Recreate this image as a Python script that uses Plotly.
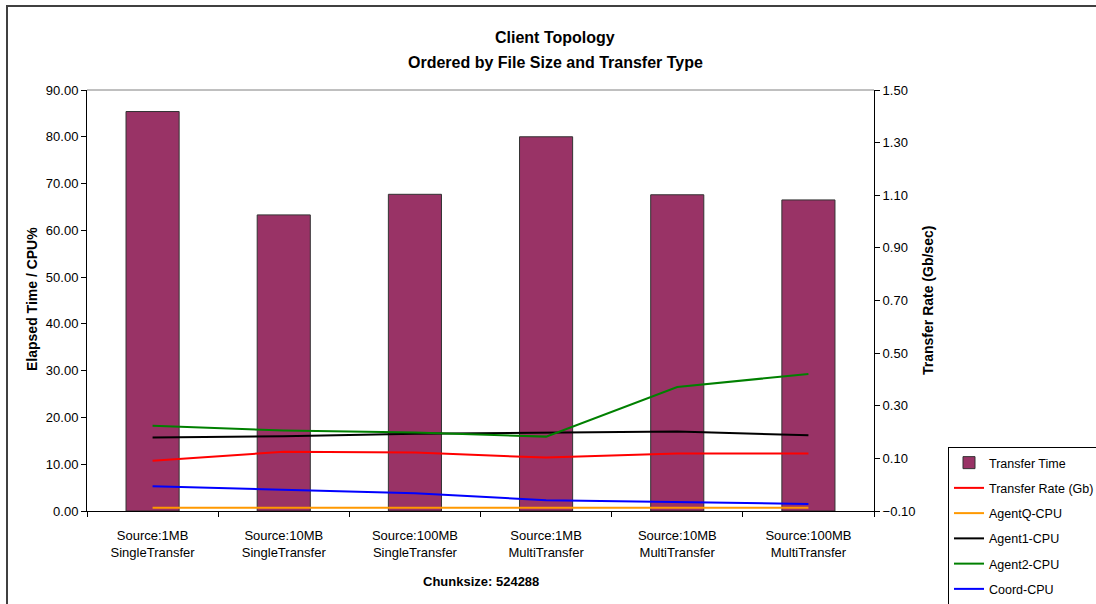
import plotly.graph_objects as go

# Test configurations (file size / transfer mode)
categories = [
    "Source:1MB<br>SingleTransfer",
    "Source:10MB<br>SingleTransfer",
    "Source:100MB<br>SingleTransfer",
    "Source:1MB<br>MultiTransfer",
    "Source:10MB<br>MultiTransfer",
    "Source:100MB<br>MultiTransfer",
]

# Elapsed time (left axis)
transfer_time = [85.4, 63.3, 67.7, 80.0, 67.6, 66.5]
# Transfer rate in Gb/sec (right axis)
transfer_rate = [0.091, 0.125, 0.122, 0.103, 0.119, 0.119]
# CPU usage in percent (left axis)
agentq_cpu = [0.7, 0.7, 0.7, 0.7, 0.7, 0.7]
agent1_cpu = [15.7, 16.0, 16.5, 16.7, 17.0, 16.2]
agent2_cpu = [18.2, 17.2, 16.8, 15.9, 26.5, 29.3]
coord_cpu = [5.3, 4.5, 3.8, 2.3, 1.9, 1.5]

FONT = "Liberation Sans, Arial, sans-serif"

fig = go.Figure()

fig.add_trace(go.Bar(
    x=categories, y=transfer_time, name="Transfer Time",
    marker=dict(color="#993366", line=dict(color="#333333", width=1)),
    width=0.405, legendgroup="g1", yaxis="y",
))
fig.add_trace(go.Scatter(
    x=categories, y=transfer_rate, name="Transfer Rate (Gb)", mode="lines",
    line=dict(color="#ff0000", width=2), legendgroup="g2", yaxis="y2",
))
line_series = [
    ("AgentQ-CPU", agentq_cpu, "#ff9900", "g3"),
    ("Agent1-CPU", agent1_cpu, "#000000", "g4"),
    ("Agent2-CPU", agent2_cpu, "#008000", "g5"),
    ("Coord-CPU", coord_cpu, "#0000ff", "g6"),
]
for name, vals, color, grp in line_series:
    fig.add_trace(go.Scatter(
        x=categories, y=vals, name=name, mode="lines",
        line=dict(color=color, width=2), legendgroup=grp, yaxis="y",
    ))

# pixel -> paper helpers for the frame / annotations
L, R, T, B = 87, 874, 90, 511
W, H = 1096, 604


def px(xp):
    return (xp - L) / (R - L)


def py(yp):
    return (B - yp) / (B - T)


def label(text, x, y, size, angle=0):
    return dict(text=text, xref="paper", yref="paper", x=px(x), y=py(y),
                xanchor="center", yanchor="middle", showarrow=False,
                textangle=angle, font=dict(size=size))


fig.update_layout(
    width=W, height=H,
    margin=dict(l=L, r=W - R, t=T, b=H - B, autoexpand=False),
    paper_bgcolor="white", plot_bgcolor="white",
    font=dict(family=FONT, size=13, color="#000000"),
    showlegend=True,
    xaxis=dict(
        type="category", showline=True, linecolor="#000000", linewidth=1,
        ticks="outside", ticklen=5, tickcolor="#000000", tickson="boundaries",
        showgrid=False, zeroline=False, tickfont=dict(size=13),
        ticklabelstandoff=12,
    ),
    yaxis=dict(
        range=[0, 90], dtick=10, tick0=0, tickformat=".2f",
        showline=True, linecolor="#000000", linewidth=1,
        ticks="outside", ticklen=5, tickcolor="#000000",
        showgrid=False, zeroline=False, tickfont=dict(size=13),
    ),
    yaxis2=dict(
        overlaying="y", side="right", range=[-0.1, 1.5], dtick=0.2, tick0=-0.1,
        tickformat=".2f", showline=True, linecolor="#000000", linewidth=1,
        ticks="outside", ticklen=5, tickcolor="#000000",
        showgrid=False, zeroline=False, tickfont=dict(size=13),
    ),
    legend=dict(
        x=px(948), y=py(447), xanchor="left", yanchor="top",
        bgcolor="white", bordercolor="#000000", borderwidth=1,
        font=dict(family=FONT, size=12.5), itemwidth=30,
        tracegroupgap=6, traceorder="grouped",
    ),
    shapes=[
        # top edge of the plot area
        dict(type="line", xref="paper", yref="paper", x0=0, x1=1, y0=1, y1=1,
             line=dict(color="#808080", width=1)),
        # chart frame
        dict(type="rect", xref="paper", yref="paper",
             x0=px(7), x1=px(1110), y0=py(620), y1=py(6),
             line=dict(color="#404040", width=2), fillcolor="rgba(0,0,0,0)"),
    ],
    annotations=[
        label("<b>Client Topology</b>", 555, 37, 16),
        label("<b>Ordered by File Size and Transfer Type</b>", 555, 62, 16),
        label("<b>Chunksize: 524288</b>", 481, 581, 13),
        label("<b>Elapsed Time / CPU%</b>", 32, 299, 14, -90),
        label("<b>Transfer Rate (Gb/sec)</b>", 928, 301, 14, -90),
    ],
)

fig.write_html("out.html")
